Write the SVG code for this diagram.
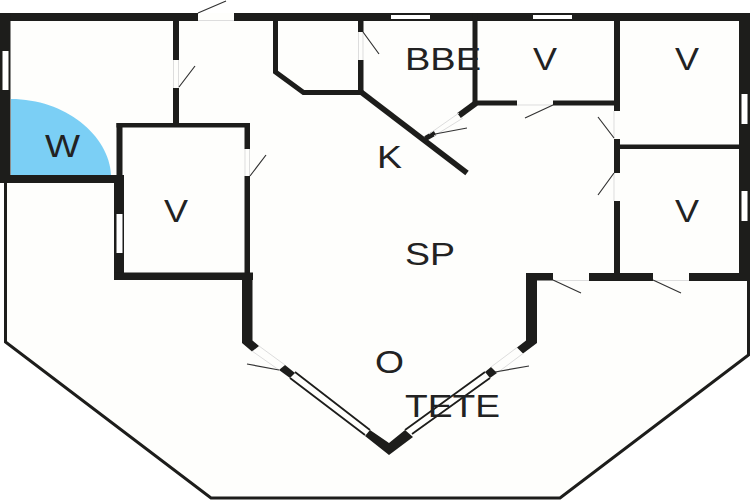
<svg xmlns="http://www.w3.org/2000/svg" width="750" height="500" viewBox="0 0 750 500">
<style>
.w{fill:#1d1d1b}
.wl{stroke:#1d1d1b;fill:none}
.g{fill:#fff}
.d{stroke:#333;stroke-width:1.2;fill:none}
.o{stroke:#ddd;stroke-width:1;fill:none}
text{font-family:"Liberation Sans",Arial,sans-serif;font-size:31px;fill:#222;text-anchor:start}
</style>
<rect width="750" height="500" fill="#fff"/>
<path d="M0 13H750V281H748V355L560 498H212L6 342V183H0Z" fill="#fefefc"/>
<path d="M11 99C65 99 109 135 111 175H11Z" fill="#7bcff5"/>
<g id="outer-terrace" class="wl">
<path d="M5.500 183V342L211 498H560L748.500 355V281" stroke-width="3"/>
</g>
<g id="walls">
<rect class="w" x="0" y="13" width="198" height="8"/>
<rect class="w" x="234" y="13" width="516" height="8"/>
<rect class="w" x="0" y="13" width="10.500" height="170"/>
<rect class="w" x="0" y="175" width="124" height="8"/>
<rect class="w" x="114" y="175" width="10" height="105"/>
<rect class="w" x="116.500" y="123" width="6" height="52"/>
<rect class="w" x="116.500" y="123" width="133.500" height="4.500"/>
<rect class="w" x="173" y="21" width="6" height="39"/>
<rect class="w" x="173" y="88" width="6" height="35"/>
<rect class="w" x="244.500" y="123" width="5.500" height="26"/>
<rect class="w" x="244.500" y="176" width="5.500" height="98"/>
<rect class="w" x="114" y="272.500" width="139" height="7.500"/>
<path class="w" d="M242 273H252.500V340.500L259 346L252 351.500L242 343Z"/>
<path class="w" d="M279 370L285 365L295 373L290 378Z"/>
<path class="w" d="M365 436L370 430L389 443L405 430L413 437L389 455Z"/>
<path class="w" d="M485 372L491 367L497 373L490 378Z"/>
<path class="w" d="M526 273H553V280.500H537V343L523 353.500L517 347.500L526 340.500Z"/>
<rect class="w" x="589" y="273" width="64" height="8"/>
<rect class="w" x="689" y="273" width="61" height="8"/>
<rect class="w" x="739" y="13" width="11" height="268"/>
<rect class="w" x="614" y="13" width="6" height="98"/>
<rect class="w" x="614" y="139" width="6" height="34"/>
<rect class="w" x="614" y="201" width="6" height="74"/>
<rect class="w" x="620" y="144.500" width="120" height="4.500"/>
<rect class="w" x="472.500" y="13" width="5" height="90"/>
<rect class="w" x="473" y="100.500" width="44" height="5"/>
<rect class="w" x="553" y="100.500" width="61" height="5"/>
<path class="wl" d="M476 103L459 115.500" stroke-width="6"/>
<path class="wl" d="M425.500 138.500L435 133" stroke-width="5"/>
<path class="wl" d="M361 92L467 173" stroke-width="5.500"/>
<path class="wl" d="M275.500 21V72L303.500 92.500H361" stroke-width="5"/>
<rect class="w" x="358" y="21" width="5.500" height="11"/>
<rect class="w" x="358" y="60" width="5.500" height="32"/>
</g>
<g id="windows">
<rect class="g" x="2.500" y="51" width="6" height="39"/>
<rect class="g" x="116.500" y="214" width="6" height="39"/>
<rect class="g" x="391" y="15" width="39" height="4"/>
<rect class="g" x="533" y="15" width="39" height="4"/>
<rect class="g" x="741.500" y="94" width="6" height="30"/>
<rect class="g" x="741.500" y="191" width="6" height="30"/>
<path class="wl" stroke-width="1.800" d="M290 378L365 435M295 372L370 430"/>
<path class="wl" stroke-width="1.800" d="M405 430L485 372M412 434L490 378"/>
</g>
<g id="door-openings">
<path class="o" d="M198 20.500H234M173.500 60V88M178.500 60V88M245 149V176M249.500 149V176M358.500 32V60M363 32V60M517 105H553M614 111V139M614 173V201M553 280.500H589M653 280.500H689"/>
<path class="o" d="M259 346L285 365M252 351L279 370M517 347.500L491 367M523 353.500L497 373M459 113L429 134M463 118L434 136"/>
</g>
<g id="door-swings">
<path class="d" d="M198 13L226 1M179 87L195 66M250 176L266 155M363 32L379 54M553 105L525 118M435 134L467 128M614 138L598 117M614 173L598 195M553 280L581 293M653 280L681 293M279 370L247 364M495 372L529 366"/>
</g>
<g id="labels">
<text x="45" y="157" textLength="35" lengthAdjust="spacingAndGlyphs">W</text>
<text x="164" y="222" textLength="24" lengthAdjust="spacingAndGlyphs">V</text>
<text x="405" y="70" textLength="76" lengthAdjust="spacingAndGlyphs">BBE</text>
<text x="533" y="70" textLength="24" lengthAdjust="spacingAndGlyphs">V</text>
<text x="675" y="70" textLength="24" lengthAdjust="spacingAndGlyphs">V</text>
<text x="675" y="222" textLength="24" lengthAdjust="spacingAndGlyphs">V</text>
<text x="377" y="168" textLength="25" lengthAdjust="spacingAndGlyphs">K</text>
<text x="405" y="265" textLength="50" lengthAdjust="spacingAndGlyphs">SP</text>
<text x="375" y="373" textLength="29" lengthAdjust="spacingAndGlyphs">O</text>
<text x="405" y="417" textLength="95" lengthAdjust="spacingAndGlyphs">TETE</text>
</g>
</svg>
